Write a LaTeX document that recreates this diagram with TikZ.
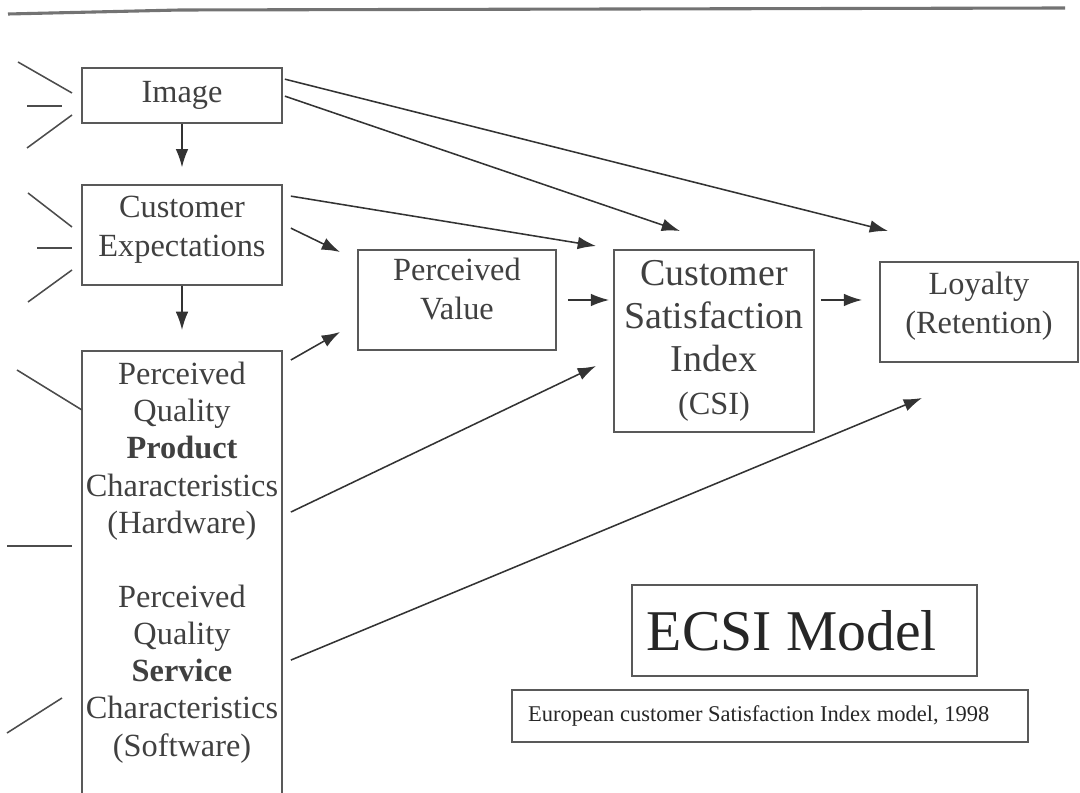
\documentclass[tikz,border=0pt]{standalone}
\usepackage{fontspec}
\setmainfont{Liberation Serif}
\usetikzlibrary{arrows.meta}
\tikzset{
  box/.style={draw=black!65, line width=1.2pt, align=center, text=black!75, inner sep=2pt},
  link/.style={draw=black!80, line width=1.1pt, -{Latex[length=13pt,width=9pt]}},
  tick/.style={draw=black!70, line width=1.1pt},
}
\begin{document}
\begin{tikzpicture}[x=0.025cm, y=-0.025cm]
    \useasboundingbox (0,0) rectangle (1080,793);
    \draw[black!55, line width=2.2pt] (8,14) -- (180,10) -- (1065,8);

    \node[box, minimum width=5cm, minimum height=1.375cm, font=\fontsize{23}{28}\selectfont] (img) at (182,95.5) {Image};
    \node[box, minimum width=5cm, minimum height=2.5cm, text depth=12pt, font=\fontsize{23}{28}\selectfont] (exp) at (182,235) {Customer\\Expectations};
    \node[box, anchor=north, minimum width=5cm, minimum height=11.25cm, text depth=24pt, inner sep=1pt, font=\fontsize{23}{26.5}\selectfont] (pq) at (182,350)
        {Perceived\\Quality\\\textbf{Product}\\Characteristics\\(Hardware)\\[26pt]Perceived\\Quality\\\textbf{Service}\\Characteristics\\(Software)};
    \node[box, minimum width=4.95cm, minimum height=2.5cm, text depth=16pt, font=\fontsize{23}{28}\selectfont] (pv) at (457,300) {Perceived\\Value};
    \node[box, minimum width=5cm, minimum height=4.55cm, font=\fontsize{27}{30.5}\selectfont] (csi) at (714,341)
        {Customer\\Satisfaction\\Index\\{\fontsize{23}{30.5}\selectfont(CSI)}};
    \node[box, minimum width=4.95cm, minimum height=2.5cm, text depth=13pt, font=\fontsize{23}{28}\selectfont] (loy) at (979,312) {Loyalty\\(Retention)};
    \node[box, minimum width=8.625cm, minimum height=2.275cm, text=black!85, font=\fontsize{41}{45}\selectfont] (ecsi) at (804.5,630.5) {ECSI Model\hspace{18pt}};
    \node[box, minimum width=12.9cm, minimum height=1.3cm, text=black!85, font=\fontsize{16}{18}\selectfont] (cap) at (770,716) {European customer Satisfaction Index model, 1998\hspace{16pt}};

    \coordinate (imgA) at ([xshift=0.05cm,yshift=-0.3cm]img.north east);
    \coordinate (imgB) at ([xshift=0.05cm,yshift=-0.725cm]img.north east);
    \coordinate (expA) at ([xshift=0.2cm,yshift=-0.3cm]exp.north east);
    \coordinate (expB) at ([xshift=0.2cm,yshift=-1.1cm]exp.north east);
    \coordinate (pqA) at ([xshift=0.2cm,yshift=-0.25cm]pq.north east);
    \coordinate (pqB) at ([xshift=0.2cm,yshift=-4.05cm]pq.north east);
    \coordinate (pqC) at ([xshift=0.2cm,yshift=-7.75cm]pq.north east);
    \coordinate (csiOut) at ([yshift=1.025cm]csi.east);
    \coordinate (csiTopA) at (680,231);
    \coordinate (csiTopB) at (596,246);
    \coordinate (csiIn) at (596,366);
    \coordinate (loyTop) at (888,231);
    \coordinate (loyIn) at (922,398);
    \coordinate (pvInA) at (340,252);
    \coordinate (pvInB) at (340,332);

    \draw[link, shorten >=0.42cm] (img) -- (exp);
    \draw[link, shorten >=0.5cm] (exp) -- (pq);
    \draw[link] (imgA) -- (loyTop);
    \draw[link] (imgB) -- (csiTopA);
    \draw[link] (expA) -- (csiTopB);
    \draw[link] (expB) -- (pvInA);
    \draw[link] (pqA) -- (pvInB);
    \draw[link] (pqB) -- (csiIn);
    \draw[link] (pqC) -- (loyIn);
    \draw[link, shorten <=0.275cm, shorten >=0.1cm] (pv.east) -- (pv.east -| csi.west);
    \draw[link, shorten <=0.15cm, shorten >=0.425cm] (csiOut) -- (csiOut -| loy.west);

    \draw[tick] (18,62) -- (72,93);
    \draw[tick] (27,106) -- (62,106);
    \draw[tick] (27,148) -- (72,115);
    \draw[tick] (28,193) -- (72,227);
    \draw[tick] (37,248) -- (72,248);
    \draw[tick] (28,302) -- (72,270);
    \draw[tick] (17,370) -- (82,410);
    \draw[tick] (7,546) -- (72,546);
    \draw[tick] (7,733) -- (62,698);
\end{tikzpicture}
\end{document}
